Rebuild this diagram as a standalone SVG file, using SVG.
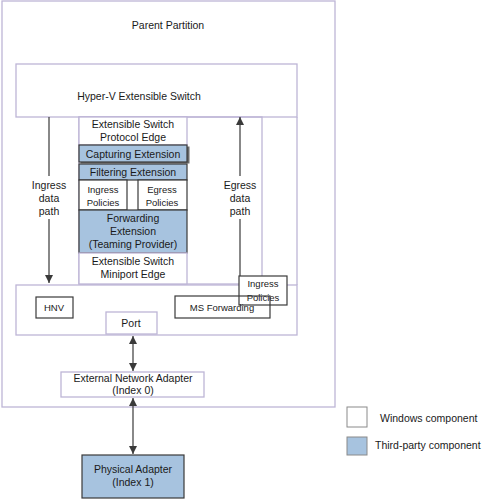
<svg xmlns="http://www.w3.org/2000/svg" width="488" height="499" viewBox="0 0 488 499">
<defs>
<style>
text{font-family:"Liberation Sans",Arial,sans-serif;font-size:10.5px;fill:#1a1a1a;text-anchor:middle}
.p{fill:#fff;stroke:#bdb5d6;stroke-width:1.3}
.pn{fill:none;stroke:#bdb5d6;stroke-width:1.3}
.d{fill:#fff;stroke:#3a3a3a;stroke-width:1.2}
.dn{fill:none;stroke:#3a3a3a;stroke-width:1.2}
.b{fill:#a7c3df;stroke:#3a3a3a;stroke-width:1.2}
.s{font-size:9.5px}
.c{fill:none;stroke:#3a3a3a;stroke-width:1.2}
.lg{text-anchor:start}
</style>
<marker id="ah" viewBox="0 0 10 10" refX="10" refY="5" markerWidth="8" markerHeight="8" markerUnits="userSpaceOnUse" orient="auto-start-reverse">
<path d="M0,0L10,5L0,10z" fill="#3a3a3a"/>
</marker>
</defs>
<rect width="488" height="499" fill="#fff"/>
<g id="parent-partition">
<rect class="p" x="2" y="1" width="333" height="406"/>
<text x="168" y="29">Parent Partition</text>
</g>
<g id="hyperv-switch">
<rect class="p" x="16" y="64" width="281" height="53"/>
<line class="pn" x1="297" y1="117" x2="297" y2="285"/>
<rect class="pn" x="79" y="117" width="183" height="167"/>
<text x="139" y="100">Hyper-V Extensible Switch</text>
</g>
<g id="protocol-edge">
<rect class="p" x="79" y="117" width="108" height="28"/>
<text x="133" y="128">Extensible Switch</text>
<text x="133" y="141">Protocol Edge</text>
</g>
<g id="capturing-extension">
<rect x="80.5" y="146.5" width="109" height="17" fill="#6a6a6a"/>
<rect class="b" x="79" y="145" width="108" height="17"/>
<text x="133" y="158">Capturing Extension</text>
</g>
<g id="filtering-extension">
<rect class="b" x="79" y="164" width="108" height="16"/>
<text x="133" y="176">Filtering Extension</text>
</g>
<g id="filter-ingress-policies">
<rect class="d" x="79" y="180" width="48" height="30"/>
<text class="s" x="103" y="193">Ingress</text>
<text class="s" x="103" y="206">Policies</text>
</g>
<g id="filter-egress-policies">
<rect class="d" x="138" y="180" width="49" height="30"/>
<text class="s" x="162" y="193">Egress</text>
<text class="s" x="162" y="206">Policies</text>
</g>
<g id="forwarding-extension">
<rect class="b" x="79" y="210" width="108" height="43"/>
<text x="133" y="222">Forwarding</text>
<text x="133" y="235">Extension</text>
<text x="133" y="248">(Teaming Provider)</text>
</g>
<g id="miniport-edge">
<rect class="p" x="79" y="253" width="108" height="31"/>
<text x="133" y="265">Extensible Switch</text>
<text x="133" y="278">Miniport Edge</text>
</g>
<g id="switch-lower">
<rect class="p" x="16" y="285" width="281" height="50"/>
</g>
<g id="hnv">
<rect class="d" x="36" y="297" width="37" height="21"/>
<text class="s" x="54" y="311">HNV</text>
</g>
<g id="ms-ingress-policies">
<rect class="d" x="239" y="276" width="48" height="29"/>
<text class="s" x="263" y="287">Ingress</text>
<text class="s" x="263" y="301">Policies</text>
</g>
<g id="ms-forwarding">
<rect class="dn" x="175" y="296" width="95" height="22"/>
<text class="s" x="222" y="311">MS Forwarding</text>
</g>
<g id="port">
<rect class="p" x="106" y="312" width="51" height="22"/>
<text x="131" y="327">Port</text>
</g>
<g id="external-adapter">
<rect class="p" x="61" y="372" width="143" height="25"/>
<text x="133" y="382">External Network Adapter</text>
<text x="133" y="394">(Index 0)</text>
</g>
<g id="physical-adapter">
<rect class="b" x="82" y="455" width="102" height="43"/>
<text x="133" y="473">Physical Adapter</text>
<text x="133" y="486">(Index 1)</text>
</g>
<g id="connectors">
<path class="c" d="M49,117V176M49,219V283" marker-end="url(#ah)"/>
<path class="c" d="M240,276V219M240,176V117" marker-end="url(#ah)"/>
<path class="c" d="M133,336V371" marker-start="url(#ah)" marker-end="url(#ah)"/>
<path class="c" d="M133,398V454" marker-start="url(#ah)" marker-end="url(#ah)"/>
<text x="49" y="189">Ingress</text>
<text x="49" y="202">data</text>
<text x="49" y="215">path</text>
<text x="240" y="189">Egress</text>
<text x="240" y="202">data</text>
<text x="240" y="215">path</text>
</g>
<g id="legend">
<rect x="347" y="407" width="20" height="20" fill="#fff" stroke="#8a8a8a" stroke-width="1"/>
<rect x="347" y="437" width="20" height="18" fill="#a7c3df" stroke="#8a8a8a" stroke-width="1"/>
<text class="lg" x="380" y="422">Windows component</text>
<text class="lg" x="375" y="449">Third-party component</text>
</g>
</svg>
